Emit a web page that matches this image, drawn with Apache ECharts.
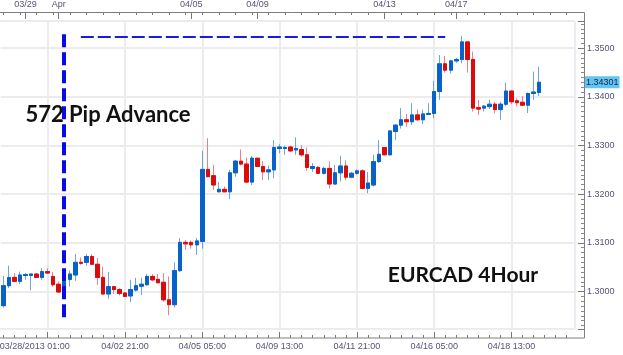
<!DOCTYPE html>
<html><head><meta charset="utf-8">
<script src="https://cdn.jsdelivr.net/npm/echarts@6/dist/echarts.min.js"></script>
<style>html,body{margin:0;padding:0;background:#fff}#c{width:623px;height:355px}</style>
</head><body><div id="c"></div>
<script>
// ---- data (EURCAD 4-hour candles) ----
const categories = [
'03/28 05:00','03/28 09:00','03/28 13:00','03/28 17:00','03/28 21:00','03/29 01:00','03/29 05:00','03/29 09:00','03/29 13:00','03/29 17:00',
'03/31 21:00','04/01 01:00','04/01 05:00','04/01 09:00','04/01 13:00','04/01 17:00','04/01 21:00','04/02 01:00','04/02 05:00','04/02 09:00',
'04/02 13:00','04/02 17:00','04/02 21:00','04/03 01:00','04/03 05:00','04/03 09:00','04/03 13:00','04/03 17:00','04/03 21:00','04/04 01:00',
'04/04 05:00','04/04 09:00','04/04 13:00','04/04 17:00','04/04 21:00','04/05 01:00','04/05 05:00','04/05 09:00','04/05 13:00','04/05 17:00',
'04/07 21:00','04/08 01:00','04/08 05:00','04/08 09:00','04/08 13:00','04/08 17:00','04/08 21:00','04/09 01:00','04/09 05:00','04/09 09:00',
'04/09 13:00','04/09 17:00','04/09 21:00','04/10 01:00','04/10 05:00','04/10 09:00','04/10 13:00','04/10 17:00','04/10 21:00','04/11 01:00',
'04/11 05:00','04/11 09:00','04/11 13:00','04/11 17:00','04/11 21:00','04/12 01:00','04/12 05:00','04/12 09:00','04/12 13:00','04/12 17:00',
'04/14 21:00','04/15 01:00','04/15 05:00','04/15 09:00','04/15 13:00','04/15 17:00','04/15 21:00','04/16 01:00','04/16 05:00','04/16 09:00',
'04/16 13:00','04/16 17:00','04/16 21:00','04/17 01:00','04/17 05:00','04/17 09:00','04/17 13:00','04/17 17:00','04/17 21:00','04/18 01:00',
'04/18 05:00','04/18 09:00','04/18 13:00','04/18 17:00','04/18 21:00','04/19 01:00','04/19 05:00','04/19 09:00',
// empty slots to the right of the last candle
'04/19 13:00','04/19 17:00','04/21 21:00','04/22 01:00','04/22 05:00','04/22 09:00'
];
const opens = [
1.2971,1.3012,1.3029,1.3021,1.3033,1.3033,1.3036,1.3029,1.3041,1.3031,
1.3015,1.3003,1.3025,1.3034,1.3060,1.3060,1.3072,1.3056,1.3029,1.2995,
1.3010,1.3004,1.2997,1.2991,1.3003,1.3011,1.3014,1.3031,1.3025,1.3019,
1.2983,1.2973,1.3043,1.3101,1.3101,1.3096,1.3103,1.3251,1.3238,1.3205,
1.3210,1.3205,1.3244,1.3268,1.3262,1.3225,1.3274,1.3257,1.3246,1.3250,
1.3294,1.3294,1.3297,1.3291,1.3292,1.3281,1.3253,1.3255,1.3243,1.3253,
1.3221,1.3244,1.3258,1.3235,1.3243,1.3248,1.3212,1.3219,1.3267,1.3296,
1.3281,1.3329,1.3342,1.3353,1.3349,1.3363,1.3353,1.3364,1.3366,1.3411,
1.3468,1.3455,1.3474,1.3477,1.3513,1.3477,1.3378,1.3377,1.3380,1.3385,
1.3374,1.3385,1.3412,1.3392,1.3389,1.3383,1.3407,1.3409
];
const closes = [
1.3012,1.3029,1.3021,1.3034,1.3035,1.3036,1.3029,1.3041,1.3038,1.3014,
1.2999,1.3020,1.3036,1.3060,1.3058,1.3072,1.3056,1.3029,1.2995,1.3010,
1.3004,1.2996,1.2990,1.3004,1.3012,1.3015,1.3031,1.3024,1.3018,1.2983,
1.2973,1.3043,1.3101,1.3098,1.3096,1.3104,1.3251,1.3236,1.3219,1.3210,
1.3205,1.3244,1.3268,1.3262,1.3225,1.3274,1.3257,1.3246,1.3250,1.3296,
1.3297,1.3296,1.3289,1.3294,1.3281,1.3255,1.3257,1.3243,1.3253,1.3221,
1.3244,1.3258,1.3235,1.3243,1.3248,1.3212,1.3223,1.3267,1.3282,1.3281,
1.3330,1.3342,1.3353,1.3349,1.3363,1.3353,1.3365,1.3366,1.3411,1.3468,
1.3455,1.3474,1.3477,1.3513,1.3477,1.3377,1.3375,1.3381,1.3385,1.3374,
1.3385,1.3412,1.3390,1.3388,1.3383,1.3407,1.3410,1.34301
];
const lows = [
1.2967,1.3007,1.3019,1.3015,1.3024,1.3003,1.3028,1.3024,1.3036,1.3010,
1.2997,1.2997,1.3010,1.3022,1.3055,1.3053,1.3055,1.3014,1.2993,1.2985,
1.2995,1.2992,1.2989,1.2978,1.3000,1.2993,1.3012,1.3021,1.3017,1.2979,
1.2951,1.2967,1.3040,1.3086,1.3088,1.3075,1.3088,1.3235,1.3209,1.3204,
1.3204,1.3190,1.3236,1.3259,1.3223,1.3219,1.3256,1.3229,1.3229,1.3233,
1.3284,1.3281,1.3288,1.3281,1.3277,1.3248,1.3246,1.3242,1.3240,1.3212,
1.3219,1.3226,1.3229,1.3233,1.3240,1.3210,1.3202,1.3216,1.3264,1.3280,
1.3280,1.3311,1.3335,1.3339,1.3342,1.3351,1.3344,1.3363,1.3356,1.3394,
1.3450,1.3448,1.3470,1.3469,1.3450,1.3370,1.3363,1.3370,1.3375,1.3366,
1.3353,1.3381,1.3385,1.3381,1.3381,1.3367,1.3394,1.3402
];
const highs = [
1.3032,1.3053,1.3038,1.3041,1.3038,1.3037,1.3038,1.3048,1.3048,1.3040,
1.3021,1.3026,1.3043,1.3077,1.3070,1.3077,1.3077,1.3069,1.3051,1.3040,
1.3011,1.3007,1.2999,1.3024,1.3028,1.3028,1.3036,1.3036,1.3036,1.3038,
1.3031,1.3060,1.3110,1.3106,1.3105,1.3110,1.3289,1.3315,1.3260,1.3225,
1.3216,1.3250,1.3270,1.3292,1.3275,1.3279,1.3275,1.3268,1.3259,1.3311,
1.3303,1.3300,1.3300,1.3317,1.3301,1.3296,1.3264,1.3258,1.3257,1.3267,
1.3260,1.3279,1.3270,1.3246,1.3251,1.3251,1.3246,1.3281,1.3311,1.3297,
1.3332,1.3344,1.3377,1.3365,1.3387,1.3374,1.3374,1.3387,1.3433,1.3486,
1.3484,1.3476,1.3480,1.3525,1.3515,1.3493,1.3394,1.3383,1.3394,1.3390,
1.3390,1.3429,1.3414,1.3397,1.3402,1.3409,1.3452,1.3462
];
const bottomTickLabels = [[8,'03/28/2013 01:00'],[22,'04/02 21:00'],[36,'04/05 05:00'],[50,'04/09 13:00'],[64,'04/11 21:00'],[78,'04/16 05:00'],[92,'04/18 13:00']];
const topTickLabels = [[4,'03/29'],[10,'Apr'],[34,'04/05'],[46,'04/09'],[69,'04/13'],[82,'04/17']];
const lastPrice = 1.34301;
const advanceLine = {cat: 11, from: 1.3529, to: 1.2946};
const targetLine = {value: 1.3523, fromCat: 14, toCat: 80};
const yRange = [1.2923, 1.3556];
const annotationTexts = ['572 Pip Advance', 'EURCAD 4Hour'];

// ---- build ----
const bottomMap = {}; bottomTickLabels.forEach(([i,t]) => bottomMap[i] = t);
const topMap = {}; topTickLabels.forEach(([i,t]) => topMap[i] = t);
const wickData = opens.map((o,i) => [o, closes[i], lows[i], highs[i]]);
const bodyData = opens.map((o,i) => [o, closes[i], Math.min(o, closes[i]), Math.max(o, closes[i])]);

const labelColor = '#545478';
const tickColor = '#777';
const gridLineColor = '#ececec';
const fontFamily = 'Liberation Sans, Arial, sans-serif';
const isBottom = (i) => bottomMap[i] !== undefined;
const isTop = (i) => topMap[i] !== undefined;

const chart = echarts.init(document.getElementById('c'), null, {renderer: 'canvas'});
chart.setOption({
  animation: false,
  backgroundColor: '#fff',
  grid: {left: 0.74, right: 48, top: 21, bottom: 26, show: false, containLabel: false, outerBoundsMode: 'none'},
  xAxis: [
    {type: 'category', data: categories, position: 'bottom', offset: 9, boundaryGap: true,
     axisLine: {show: false},
     axisTick: {show: true, inside: true, length: 6, alignWithLabel: true, interval: isBottom, lineStyle: {color: tickColor}},
     axisLabel: {interval: isBottom, margin: 4, color: labelColor, fontSize: 9, fontFamily,
       formatter: (v, i) => i === bottomTickLabels[0][0] ? '{a|' + bottomMap[i] + '}' : (bottomMap[i] || ''),
       rich: {a: {padding: [0, 26, 0, 0], color: labelColor, fontSize: 9, fontFamily}}},
     splitLine: {show: true, interval: isBottom, alignWithLabel: true, lineStyle: {color: gridLineColor, width: 2}}},
    {type: 'category', data: categories, position: 'bottom', offset: 9, boundaryGap: true,
     axisLine: {show: false},
     axisTick: {show: true, inside: true, length: 3, alignWithLabel: true, interval: 1, lineStyle: {color: tickColor}},
     axisLabel: {show: false}, splitLine: {show: false}},
    {type: 'category', data: categories, position: 'top', offset: 9, boundaryGap: true,
     axisLine: {show: false},
     axisTick: {show: true, inside: true, length: 7, alignWithLabel: true, interval: isTop, lineStyle: {color: tickColor}},
     axisLabel: {interval: isTop, margin: 3, color: labelColor, fontSize: 9, fontFamily, formatter: (v, i) => topMap[i] || ''},
     splitLine: {show: false}},
    {type: 'category', data: categories, position: 'top', offset: 9, boundaryGap: true,
     axisLine: {show: false},
     axisTick: {show: true, inside: true, length: 3, alignWithLabel: true, interval: 2, lineStyle: {color: tickColor}},
     axisLabel: {show: false}, splitLine: {show: false}}
  ],
  yAxis: {type: 'value', position: 'right', offset: 9, min: yRange[0], max: yRange[1], splitNumber: 6, scale: true,
    axisLine: {show: false},
    axisTick: {show: true, inside: true, length: 6, lineStyle: {color: tickColor}},
    minorTick: {show: true, splitNumber: 10, length: 3, lineStyle: {color: '#888'}},
    axisLabel: {margin: 3, color: labelColor, fontSize: 9, fontFamily, showMinLabel: false, showMaxLabel: false,
      formatter: (v) => v.toFixed(4)},
    splitLine: {show: true, lineStyle: {color: gridLineColor, width: 2}}
  },
  series: [
    {type: 'candlestick', name: 'wicks', data: wickData, barWidth: 4, silent: true, z: 2,
     itemStyle: {color: '#79ace6', color0: '#f08888', borderColor: '#6ea4e4', borderColor0: '#ef7f7f', borderWidth: 1}},
    {type: 'candlestick', name: 'bodies', data: bodyData, barWidth: 4, silent: true, z: 3,
     itemStyle: {color: '#0862c9', color0: '#dc0a0a', borderColor: '#0862c9', borderColor0: '#dc0a0a', borderWidth: 1},
     markLine: {symbol: ['none', 'none'], silent: true, animation: false, precision: 5, label: {show: false},
       data: [
         [{coord: [categories[advanceLine.cat], advanceLine.from], lineStyle: {color: '#0a0ae6', width: 4, type: [13, 5], opacity: 1}},
          {coord: [categories[advanceLine.cat], advanceLine.to]}],
         [{coord: [categories[targetLine.fromCat], targetLine.value], lineStyle: {color: '#1a1ae0', width: 2, type: [13, 4], opacity: 1}},
          {coord: [categories[targetLine.toCat], targetLine.value]}],
         {yAxis: lastPrice, lineStyle: {color: 'rgba(0,0,0,0)', width: 0.01},
          label: {show: true, position: 'end', distance: 10, formatter: lastPrice.toFixed(5), backgroundColor: '#62c6f3',
                  color: '#1e1e44', fontSize: 9, fontFamily, padding: [2, 1, 1, 1]}}
       ]}}
  ],
  graphic: [
    {type: 'rect', silent: true, z: -1, shape: {x: -2, y: 21.5, width: 577, height: 307.5}, style: {fill: 'none', stroke: '#d3d9e2', lineWidth: 1}},
    {type: 'rect', silent: true, z: 5, shape: {x: -2, y: 12.5, width: 586.5, height: 325.5}, style: {fill: 'none', stroke: '#808080', lineWidth: 1}},
    {type: 'text', silent: true, z: 10, x: 108, y: 115, style: {text: annotationTexts[0], font: 'bold 22px Lato', fill: '#111', align: 'center', verticalAlign: 'middle'}},
    {type: 'text', silent: true, z: 10, x: 463, y: 275, style: {text: annotationTexts[1], font: 'bold 21px Lato', fill: '#111', align: 'center', verticalAlign: 'middle'}}
  ]
});
</script></body></html>
